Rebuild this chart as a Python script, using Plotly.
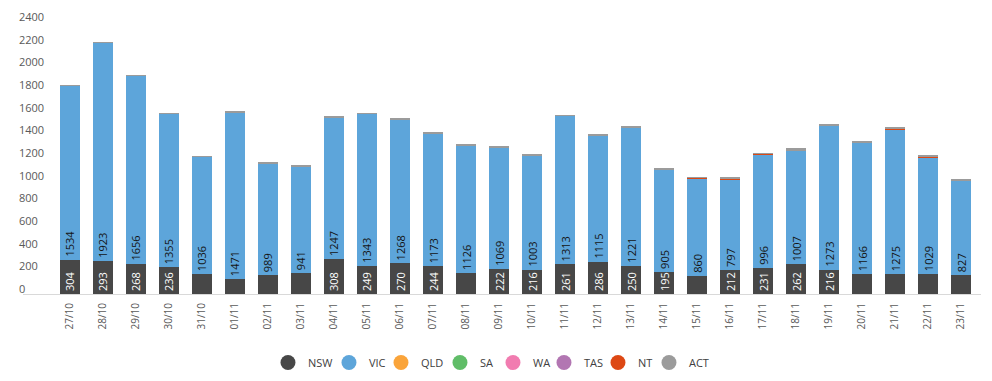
import plotly.graph_objects as go

dates = ["27/10", "28/10", "29/10", "30/10", "31/10", "01/11", "02/11", "03/11",
         "04/11", "05/11", "06/11", "07/11", "08/11", "09/11", "10/11", "11/11",
         "12/11", "13/11", "14/11", "15/11", "16/11", "17/11", "18/11", "19/11",
         "20/11", "21/11", "22/11", "23/11"]

nsw = [304, 293, 268, 236, 175, 131, 166, 184, 308, 249, 270, 244, 186, 222,
       216, 261, 286, 250, 195, 160, 212, 231, 262, 216, 175, 175, 175, 166]
nsw_labels = ["304", "293", "268", "236", "", "", "", "", "308", "249", "270", "244", "", "222",
              "216", "261", "286", "250", "195", "", "212", "231", "262", "216", "", "", "", ""]
vic = [1534, 1923, 1656, 1355, 1036, 1471, 989, 941, 1247, 1343, 1268, 1173, 1126, 1069,
       1003, 1313, 1115, 1221, 905, 860, 797, 996, 1007, 1273, 1166, 1275, 1029, 827]
qld = [0] * 28
sa = [0] * 28
wa = [0] * 28
tas = [0] * 28
nt = [0, 0, 0, 0, 0, 0, 0, 0, 0, 0, 0, 0, 0, 0,
      4, 0, 0, 0, 0, 5, 10, 10, 0, 0, 0, 10, 10, 0]
act = [3, 6, 6, 6, 6, 4, 9, 10, 10, 3, 11, 5, 10, 12,
       6, 3, 10, 3, 11, 6, 5, 3, 15, 7, 12, 8, 5, 18]

series = [
    ("NSW", nsw, "#474747"),
    ("VIC", vic, "#5DA5DA"),
    ("QLD", qld, "#FAA43A"),
    ("SA", sa, "#60BD68"),
    ("WA", wa, "#F17CB0"),
    ("TAS", tas, "#B276B2"),
    ("NT", nt, "#DD4814"),
    ("ACT", act, "#9B9B9B"),
]
legend_widths = {"NSW": 16, "VIC": 7, "QLD": 14, "SA": 8, "WA": 6, "TAS": 9, "NT": 6, "ACT": 20}

FONT = "Open Sans"
fig = go.Figure()

for name, vals, col in series:
    kw = {}
    if name == "NSW":
        kw = dict(text=nsw_labels, textposition="inside", insidetextanchor="start",
                  textangle=-90, textfont=dict(color="white", size=11, family=FONT))
    elif name == "VIC":
        kw = dict(text=[str(v) for v in vic], textposition="inside", insidetextanchor="start",
                  textangle=-90, textfont=dict(color="#141414", size=11, family=FONT))
    fig.add_trace(go.Bar(x=dates, y=vals, name=name, marker=dict(color=col, line=dict(width=0)),
                         showlegend=False, hoverinfo="x+y+name", **kw))

# legend proxies with round symbols
for name, vals, col in series:
    fig.add_trace(go.Scatter(x=[None], y=[None], mode="markers", name=name,
                             marker=dict(color=col, size=15, symbol="circle"),
                             legendwidth=legend_widths[name], showlegend=True))

fig.update_layout(
    width=992, height=381,
    barmode="stack", bargap=0.394,
    paper_bgcolor="white", plot_bgcolor="white",
    margin=dict(l=15, r=19, t=14, b=87),
    font=dict(family=FONT, color="#595959", size=11),
    uniformtext=dict(minsize=11, mode="show"),
    showlegend=True,
    legend=dict(orientation="h", x=0.4885, xanchor="center", y=-0.252, yanchor="middle",
                traceorder="normal", font=dict(size=11, color="#404040", family=FONT)),
    xaxis=dict(type="category", range=[-1.424, 27.606], tickangle=-90, automargin=False,
               showline=True, linecolor="#d9d9d9", linewidth=1, showgrid=False,
               ticks="", tickfont=dict(size=10, color="#595959", family=FONT),
               ticklabelstandoff=4, fixedrange=True),
    yaxis=dict(range=[0, 2400], dtick=200, showgrid=False, zeroline=False, showline=False,
               automargin=False,
               ticks="", ticklabelposition="inside", ticklabeloverflow="allow",
               ticklabelshift=-5, ticklabelstandoff=-7,
               tickfont=dict(size=11, color="#595959", family=FONT), fixedrange=True),
)

fig.write_html("out.html")
